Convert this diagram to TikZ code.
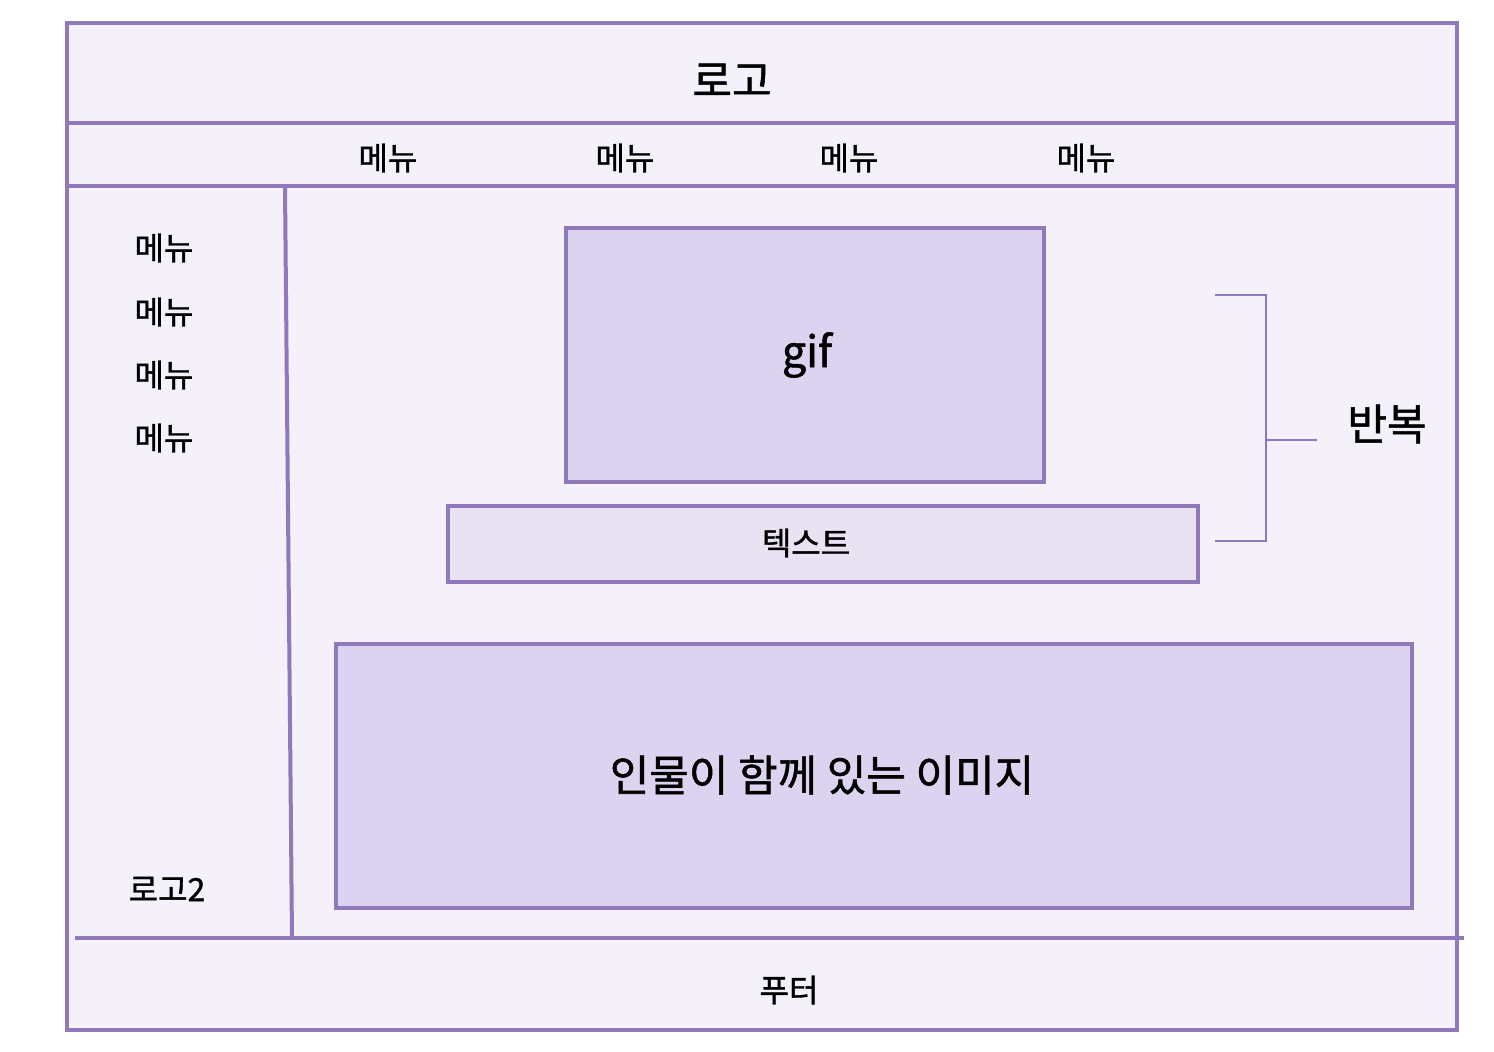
\documentclass[tikz,border=0pt]{standalone}
\usepackage{fontspec}
\setmainfont{Noto Sans CJK KR}[FakeBold=1.2]
\definecolor{bord}{HTML}{9079BB}
\definecolor{bgfill}{HTML}{F4F1FB}
\definecolor{boxfill}{HTML}{DCD3F0}
\definecolor{txtfill}{HTML}{E8E2F2}
\begin{document}
\begin{tikzpicture}[x=1pt,y=-1pt,
  frame/.style={draw=bord,line width=4pt},
  sep/.style={draw=bord,line width=4pt},
  thin/.style={draw=bord,line width=1.6pt},
  lbl/.style={inner sep=0pt,font=\fontsize{32}{38}\selectfont},
  big/.style={inner sep=0pt,font=\fontsize{43}{50}\selectfont}]
\useasboundingbox (0,0) rectangle (1494,1052);
% outer frame
\path[frame,fill=bgfill] (67,23) rectangle (1457,1030);
\draw[sep] (67,123) -- (1457,123);
\draw[sep] (67,186) -- (1457,186);
\draw[sep] (285,187) -- (292,938);
\draw[sep] (75,938) -- (1464,938);
% texts
\node[big] (logo) at (732,80) {로고};
\node[lbl] (m1) at (388,158) {메뉴};
\node[lbl] (m2) at (625,158) {메뉴};
\node[lbl] (m3) at (849,158) {메뉴};
\node[lbl] (m4) at (1086,158) {메뉴};
\node[lbl] (s1) at (164,248) {메뉴};
\node[lbl] (s2) at (164,312) {메뉴};
\node[lbl] (s3) at (164,375) {메뉴};
\node[lbl] (s4) at (164,438) {메뉴};
\node[lbl] (logo2) at (167,889) {로고2};
\node[lbl] (footer) at (789,990) {푸터};
% boxes
\path[frame,line width=3.5pt,fill=boxfill] (566,228) rectangle (1044,482);
\node[big] (gif) at (807,355) {gif};
\path[frame,line width=3.5pt,fill=txtfill] (448,506) rectangle (1198,582);
\node[lbl] (text) at (806,543) {텍스트};
\path[frame,line width=3.5pt,fill=boxfill] (336,644) rectangle (1412,908);
\node[big] (img) at (822,775) {인물이 함께 있는 이미지};
% bracket
\coordinate (bt) at (1215,295);
\coordinate (bb) at (1215,541);
\coordinate (bm) at (1317,440);
\node[big] (rep) at (1387,424) {반복};
\draw[thin] (bt) -- (1266,295) -- (1266,541) -- (bb);
\draw[thin] (1266,440) -- (bm);
\end{tikzpicture}
\end{document}
